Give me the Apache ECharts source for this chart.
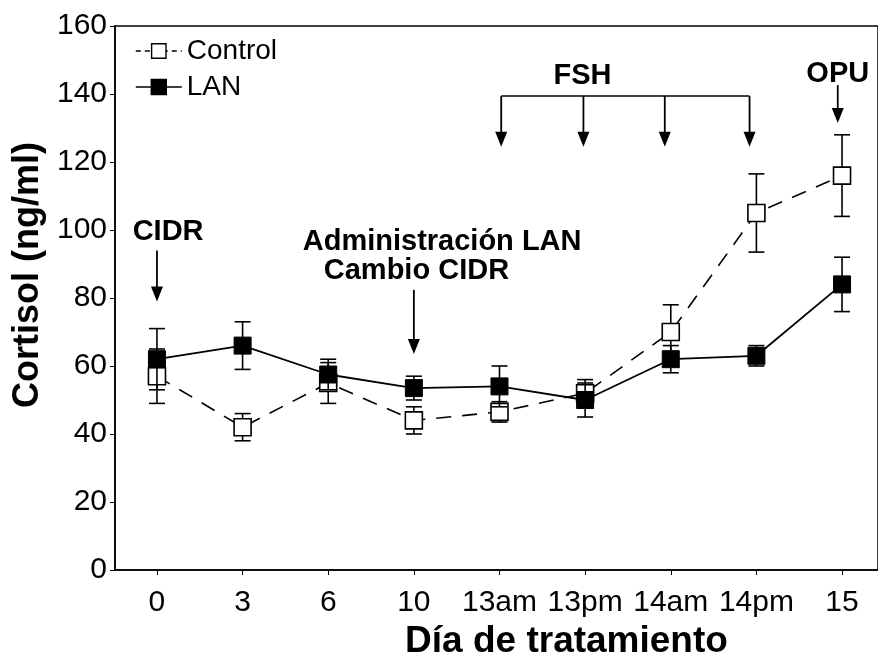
<!DOCTYPE html>
<html><head><meta charset="utf-8">
<script src="https://cdn.jsdelivr.net/npm/echarts@6/dist/echarts.min.js"></script>
<style>html,body{margin:0;padding:0;background:#fff}#c{width:878px;height:665px}</style>
</head><body><div id="c"></div>
<script>
const categories = ['0','3','6','10','13am','13pm','14am','14pm','15'];
const controlMean = [57, 42, 55, 44, 46.5, 52, 70, 105, 116];
const controlErr  = [8, 4, 6, 4, 3, 4, 8, 11.5, 12];
const lanMean     = [62, 66, 57.5, 53.5, 54, 50, 62, 63, 84];
const lanErr      = [9, 7, 4.5, 3.5, 6, 5, 4, 3, 8];
const yTicks = [0, 20, 40, 60, 80, 100, 120, 140, 160];
// annotation arrows: [x, yFrom, yTo(tip)]
const arrows = [[0, 94, 79], [3, 82.4, 63.5], [4.02, 139.4, 124.5], [4.98, 139.4, 124.5], [5.93, 139.4, 124.5], [6.92, 139.4, 124.5], [7.95, 142.6, 131.5]];
const bracket = [[4.02, 6.92, 139.4]];
const notes = [['CIDR', 0.13, 99.4], ['Administración LAN', 3.33, 96.5], ['Cambio CIDR', 3.03, 87.9], ['FSH', 4.97, 145.3], ['OPU', 7.95, 146]];

const FONT = 'Liberation Sans, Arial, sans-serif';
const idx = categories.map((c, i) => i);
const ctrlData = idx.map(i => [i, controlMean[i]]);
const lanData = idx.map(i => [i, lanMean[i]]);
const ctrlErrData = idx.map(i => [i, controlMean[i], controlErr[i]]);
const lanErrData = idx.map(i => [i, lanMean[i], lanErr[i]]);

function errRender(params, api) {
  const x = api.value(0), m = api.value(1), e = api.value(2);
  const t = api.coord([x, m + e]), b = api.coord([x, m - e]);
  const hw = 8;
  const st = {stroke: '#000', lineWidth: 1.6};
  return {type: 'group', children: [
    {type: 'line', shape: {x1: t[0], y1: t[1], x2: b[0], y2: b[1]}, style: st},
    {type: 'line', shape: {x1: t[0] - hw, y1: t[1], x2: t[0] + hw, y2: t[1]}, style: st},
    {type: 'line', shape: {x1: b[0] - hw, y1: b[1], x2: b[0] + hw, y2: b[1]}, style: st}
  ]};
}
function arrowRender(params, api) {
  const x = api.value(0), y1 = api.value(1), y2 = api.value(2);
  const a = api.coord([x, y1]), b = api.coord([x, y2]);
  return {type: 'group', children: [
    {type: 'line', shape: {x1: a[0], y1: a[1], x2: b[0], y2: b[1] - 10}, style: {stroke: '#000', lineWidth: 1.8}},
    {type: 'polygon', shape: {points: [[b[0] - 6, b[1] - 15], [b[0] + 6, b[1] - 15], [b[0], b[1]]]}, style: {fill: '#000'}}
  ]};
}
function bracketRender(params, api) {
  const a = api.coord([api.value(0), api.value(2)]), b = api.coord([api.value(1), api.value(2)]);
  return {type: 'line', shape: {x1: a[0], y1: a[1], x2: b[0], y2: b[1]}, style: {stroke: '#000', lineWidth: 1.6}};
}
function noteRender(params, api) {
  const p = api.coord([api.value(1), api.value(2)]);
  return {type: 'text', x: p[0], y: p[1], style: {text: notes[params.dataIndex][0], fill: '#000', font: 'bold 29px ' + FONT, align: 'center', verticalAlign: 'middle'}};
}

const chart = echarts.init(document.getElementById('c'), null, {renderer: 'canvas'});
chart.setOption({
  animation: false,
  backgroundColor: '#fff',
  grid: {left: 115, top: 26, right: -3, bottom: 95, show: true, borderColor: '#000', borderWidth: 1.5, backgroundColor: 'transparent'},
  legend: {
    orient: 'vertical', left: 130, top: 32, itemGap: 8, itemWidth: 46, itemHeight: 18,
    data: [
      {name: 'Control', lineStyle: {type: [5, 4], width: 1.4, color: '#000'}, itemStyle: {color: '#fff', borderColor: '#000', borderWidth: 1.4}},
      {name: 'LAN', lineStyle: {type: 'solid', width: 1.6, color: '#000'}}
    ],
    textStyle: {fontFamily: FONT, fontSize: 28, color: '#000'}
  },
  xAxis: {
    type: 'value', min: -0.49, max: 8.42,
    name: 'Día de tratamiento', nameLocation: 'middle', nameGap: 52,
    nameTextStyle: {fontFamily: FONT, fontSize: 37, fontWeight: 'bold', color: '#000', padding: [0, 0, 0, 140]},
    axisLine: {onZero: false, lineStyle: {color: '#000', width: 1.5}},
    axisTick: {show: true, customValues: idx, length: 5, lineStyle: {color: '#000'}},
    axisLabel: {customValues: idx, formatter: v => categories[Math.round(v)], fontFamily: FONT, fontSize: 30, color: '#000', margin: 18},
    splitLine: {show: false}
  },
  yAxis: {
    type: 'value', min: 0, max: 160, interval: 20,
    name: 'Cortisol (ng/ml)', nameLocation: 'middle', nameGap: 68,
    nameTextStyle: {fontFamily: FONT, fontSize: 36, fontWeight: 'bold', color: '#000', padding: [0, 0, 0, 46]},
    axisLine: {show: true, onZero: false, lineStyle: {color: '#000', width: 1.5}},
    axisTick: {show: true, length: 5, lineStyle: {color: '#000'}},
    axisLabel: {fontFamily: FONT, fontSize: 30, color: '#000', margin: 8, formatter: v => yTicks.includes(v) ? String(v) : ''},
    splitLine: {show: false}
  },
  series: [
    {type: 'custom', name: 'ctrlErr', data: ctrlErrData, renderItem: errRender, z: 2, silent: true},
    {type: 'custom', name: 'lanErr', data: lanErrData, renderItem: errRender, z: 4, silent: true},
    {type: 'line', name: 'Control', data: ctrlData, z: 3, symbol: 'rect', symbolSize: 17,
      lineStyle: {color: '#000', width: 1.6, type: [15, 11]},
      itemStyle: {color: '#fff', borderColor: '#000', borderWidth: 1.6}},
    {type: 'line', name: 'LAN', data: lanData, z: 5, symbol: 'rect', symbolSize: 17,
      lineStyle: {color: '#000', width: 1.8, type: 'solid'},
      itemStyle: {color: '#000', borderColor: '#000', borderWidth: 1}},
    {type: 'custom', name: 'arrows', data: arrows, renderItem: arrowRender, z: 6, silent: true},
    {type: 'custom', name: 'bracket', data: bracket, renderItem: bracketRender, z: 6, silent: true},
    {type: 'custom', name: 'notes', data: notes.map(n => [0, n[1], n[2]]), renderItem: noteRender, z: 6, silent: true}
  ]
});
</script></body></html>
